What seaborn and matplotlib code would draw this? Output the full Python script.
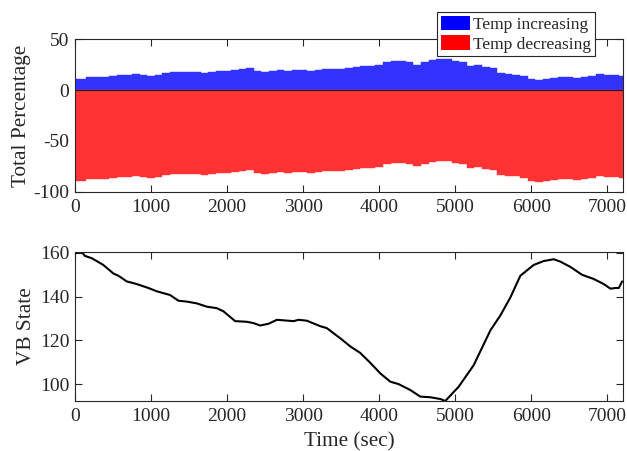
import numpy as np
import pandas as pd
import matplotlib
matplotlib.use("Agg")
import matplotlib.pyplot as plt
from matplotlib.patches import Patch
import seaborn as sns

# ---- data ----
bar_time = list(range(0, 7201, 100))
temp_increasing = [10.8, 10.8, 12.4, 12.4, 12.6, 13.5, 14.6, 15.0, 15.4, 15.0,
                   13.6, 14.8, 16.2, 17.3, 17.8, 17.6, 17.3, 17.0, 18.0, 18.3,
                   19.0, 19.4, 20.2, 21.2, 19.0, 18.0, 18.5, 19.9, 18.8, 19.5,
                   19.6, 18.6, 19.8, 20.2, 20.6, 20.6, 21.6, 22.9, 23.4, 23.8,
                   24.6, 27.2, 28.5, 28.6, 27.6, 25.0, 27.5, 29.4, 30.3, 30.0,
                   28.9, 27.5, 24.0, 24.4, 22.9, 21.2, 16.3, 15.8, 15.2, 14.1,
                   11.2, 9.8, 10.4, 11.5, 13.1, 12.5, 12.1, 12.8, 14.0, 15.3,
                   15.0, 14.6, 14.1]
temp_decreasing = [-89.2, -89.2, -87.6, -87.6, -87.4, -86.5, -85.4, -85.0, -84.6, -85.0,
                   -86.4, -85.2, -83.8, -82.7, -82.2, -82.4, -82.7, -83.0, -82.0, -81.7,
                   -81.0, -80.6, -79.8, -78.8, -81.0, -82.0, -81.5, -80.1, -81.2, -80.5,
                   -80.4, -81.4, -80.2, -79.8, -79.4, -79.4, -78.4, -77.1, -76.6, -76.2,
                   -75.4, -72.8, -71.5, -71.4, -72.4, -75.0, -72.5, -70.6, -69.7, -70.0,
                   -71.1, -72.5, -76.0, -75.6, -77.1, -78.8, -83.7, -84.2, -84.8, -85.9,
                   -88.8, -90.2, -89.6, -88.5, -86.9, -87.5, -87.9, -87.2, -86.0, -84.7,
                   -85.0, -85.4, -85.9]

vb_time = [0, 88, 132, 219, 373, 505, 570, 680, 811, 965, 1075, 1250, 1360, 1470,
           1600, 1732, 1864, 1951, 2105, 2259, 2347, 2434, 2544, 2654, 2873, 2939,
           3048, 3224, 3311, 3509, 3618, 3750, 3882, 4013, 4145, 4254, 4408, 4539,
           4671, 4803, 4868, 5044, 5241, 5461, 5592, 5724, 5855, 6030, 6162, 6294,
           6382, 6513, 6667, 6820, 6951, 7039, 7105, 7149, 7193]
vb_state = [159.8, 160.3, 158.5, 157.5, 154.4, 150.5, 149.5, 146.9, 145.7, 143.9,
            142.4, 140.7, 138.1, 137.7, 136.9, 135.4, 134.7, 133.3, 128.8, 128.5,
            127.9, 126.8, 127.6, 129.4, 128.8, 129.4, 129.0, 126.5, 125.6, 120.4,
            117.3, 114.3, 109.8, 105.0, 101.2, 100.1, 97.4, 94.4, 94.1, 93.3,
            92.4, 98.9, 108.7, 124.6, 131.4, 139.6, 149.5, 154.4, 156.2, 157.0,
            155.9, 153.5, 149.9, 148.0, 145.7, 143.6, 143.9, 143.9, 146.9]

x_ticks = [0, 1000, 2000, 3000, 4000, 5000, 6000, 7000]
top_yticks = [-100, -50, 0, 50]
bot_yticks = [100, 120, 140, 160]
legend_labels = ["Temp increasing", "Temp decreasing"]

# ---- style ----
sns.set_style("ticks")
plt.rcParams["font.family"] = ["Liberation Serif", "DejaVu Serif"]
plt.rcParams["font.size"] = 14
plt.rcParams["axes.unicode_minus"] = False
plt.rcParams["axes.edgecolor"] = "#262626"
plt.rcParams["axes.linewidth"] = 0.8
plt.rcParams["xtick.color"] = "#262626"
plt.rcParams["ytick.color"] = "#262626"
plt.rcParams["xtick.labelcolor"] = "#262626"
plt.rcParams["ytick.labelcolor"] = "#262626"

fig = plt.figure(figsize=(6.27, 4.51), dpi=100)
ax1 = fig.add_axes([0.1196, 0.5743, 0.8735, 0.3392])
ax2 = fig.add_axes([0.1196, 0.1109, 0.8735, 0.3303])

blue_c = (0.2, 0.2, 1.0)
red_c = (1.0, 0.2, 0.2)

df = pd.DataFrame({"t": bar_time, "inc": temp_increasing, "dec": temp_decreasing})
sns.barplot(data=df, x="t", y="inc", native_scale=True, width=1.0, color=blue_c,
            saturation=1, edgecolor=blue_c, linewidth=0.3, errorbar=None, ax=ax1)
sns.barplot(data=df, x="t", y="dec", native_scale=True, width=1.0, color=red_c,
            saturation=1, edgecolor=red_c, linewidth=0.3, errorbar=None, ax=ax1)
ax1.axhline(0, color="#1a1a1a", lw=0.8)
ax1.set_xlim(0, 7200)
ax1.set_ylim(-100, 50)
ax1.set_xticks(x_ticks)
ax1.set_xticklabels([str(v) for v in x_ticks])
ax1.set_yticks(top_yticks)
ax1.set_yticklabels([str(v) for v in top_yticks])
ax1.set_xlabel("")
ax1.set_ylabel("Total Percentage", fontsize=15.3, labelpad=2)

handles = [Patch(facecolor="#0000ff", edgecolor="none"),
           Patch(facecolor="#ff0000", edgecolor="none")]
leg = ax1.legend(handles, legend_labels, loc="upper right",
                 bbox_to_anchor=(0.949, 1.176), frameon=True, fancybox=False,
                 handlelength=1.67, handleheight=0.92, handletextpad=0.2,
                 labelspacing=0.15, borderpad=0.2, borderaxespad=0.0,
                 fontsize=12.5)
leg.get_frame().set_edgecolor("#262626")
leg.get_frame().set_linewidth(0.8)
leg.get_frame().set_alpha(1)

vdf = pd.DataFrame({"t": vb_time, "vb": vb_state})
sns.lineplot(data=vdf, x="t", y="vb", color="black", lw=1.5, ax=ax2)
ax2.set_xlim(0, 7200)
ax2.set_ylim(min(vb_state), max(vb_state))
ax2.set_xticks(x_ticks)
ax2.set_yticks(bot_yticks)
ax2.set_xlabel("Time (sec)", fontsize=15.3, labelpad=5)
ax2.set_ylabel("VB State", fontsize=15.3, labelpad=3)

for ax in (ax1, ax2):
    for s in ax.spines.values():
        s.set_visible(True)
        s.set_color("#262626")
        s.set_linewidth(0.8)
    ax.tick_params(direction="in", top=True, right=True, length=5, width=0.8,
                   labelsize=14)
    ax.tick_params(axis="x", pad=5)
    ax.tick_params(axis="y", pad=4)

fig.savefig("out.png", dpi=100)
